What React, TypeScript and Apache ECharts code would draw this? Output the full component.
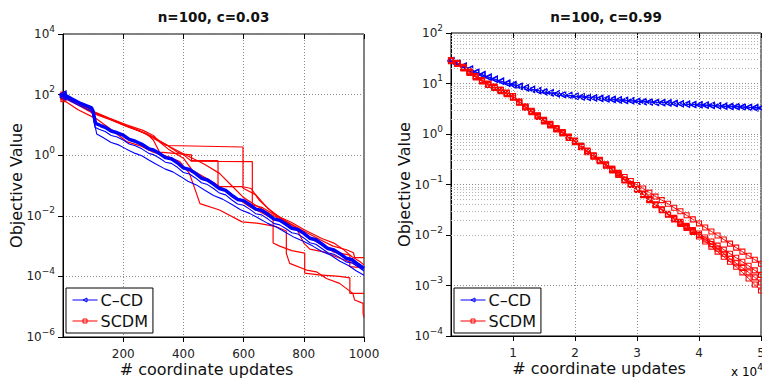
import { useEffect, useRef } from "react";
import * as echarts from "echarts";

const FONT = '"DejaVu Sans", "Liberation Sans", sans-serif';

// ---------- Left panel: n=100, c=0.03 ----------
// pairs: [coordinate updates, log10(objective value)]
const leftTitle = "n=100, c=0.03";
const leftXTicks = { min: 0, max: 1000, step: 200 };

const ccdLeftThick = [
  [0, 2.02], [30, 1.85], [60, 1.7], [95, 1.56], [100, 1.45], [108, 1.05], [125, 0.98], [140, 0.92],
  [160, 0.8], [180, 0.74], [200, 0.66], [220, 0.52], [240, 0.46], [262, 0.36], [285, 0.21], [300, 0.17],
  [320, 0.06], [340, -0.08], [360, -0.12], [380, -0.25], [400, -0.42], [420, -0.47], [440, -0.6],
  [460, -0.76], [480, -0.82], [500, -0.95], [520, -1.1], [540, -1.16], [560, -1.32], [580, -1.46],
  [600, -1.5], [620, -1.63], [640, -1.78], [660, -1.82], [680, -1.95], [700, -2.1], [720, -2.15],
  [740, -2.27], [760, -2.41], [780, -2.45], [800, -2.58], [820, -2.74], [840, -2.79], [860, -2.93],
  [880, -3.08], [900, -3.13], [920, -3.25], [940, -3.4], [960, -3.45], [980, -3.6], [1000, -3.74],
];
const ccdLeftMid = [
  [0, 1.98], [40, 1.78], [95, 1.52], [100, 1.38], [106, 0.92], [120, 0.86], [140, 0.78], [160, 0.65],
  [180, 0.6], [200, 0.5], [220, 0.37], [240, 0.31], [262, 0.21], [285, 0.06], [300, 0.02], [320, -0.09],
  [340, -0.23], [360, -0.27], [380, -0.4], [400, -0.57], [420, -0.62], [440, -0.75], [460, -0.91],
  [480, -0.97], [500, -1.1], [520, -1.25], [540, -1.31], [560, -1.47], [580, -1.61], [600, -1.65],
  [620, -1.78], [640, -1.93], [660, -1.97], [680, -2.1], [700, -2.25], [720, -2.3], [740, -2.42],
  [760, -2.56], [780, -2.6], [800, -2.73], [820, -2.89], [840, -2.94], [860, -3.08], [880, -3.22],
  [900, -3.27], [920, -3.38], [940, -3.52], [960, -3.56], [980, -3.68], [1000, -3.82],
];
const ccdLeftLow = [
  [0, 1.92], [50, 1.66], [95, 1.45], [100, 1.3], [112, 0.7], [130, 0.6], [160, 0.42], [185, 0.34],
  [211, 0.2], [240, 0.06], [262, -0.02], [285, -0.16], [310, -0.3], [340, -0.46], [365, -0.55],
  [390, -0.7], [415, -0.86], [443, -0.98], [470, -1.15], [500, -1.33], [530, -1.45], [560, -1.62],
  [590, -1.8], [620, -1.92], [650, -2.08], [680, -2.25], [710, -2.38], [740, -2.55], [770, -2.72],
  [800, -2.85], [830, -3.0], [860, -3.18], [890, -3.3], [920, -3.5], [950, -3.65], [975, -3.82],
  [1000, -3.96],
];

const scdmLeft1 = [
  [0, 2.02], [50, 1.75], [100, 1.45], [155, 1.22], [211, 1.0], [266, 0.82], [300, 0.65], [321, 0.45],
  [343, 0.32], [598, 0.27], [598, -1.04], [625, -1.1], [653, -1.5], [709, -2.0], [753, -2.25],
  [809, -2.55], [853, -2.78], [897, -3.0], [942, -3.12], [965, -3.22], [969, -3.38], [1000, -3.38],
];
const scdmLeft2 = [
  [0, 1.95], [50, 1.7], [100, 1.4], [155, 1.2], [211, 0.95], [266, 0.75], [300, 0.55], [343, 0.35],
  [380, 0.1], [400, 0.02], [427, -0.2], [629, -0.21], [629, -1.64], [660, -1.72], [700, -1.95],
  [760, -2.22], [800, -2.45], [860, -2.75], [900, -2.9], [930, -3.1], [960, -3.35], [985, -3.5],
  [1000, -3.62],
];
const scdmLeft3 = [
  [0, 1.9], [50, 1.66], [100, 1.38], [155, 1.18], [200, 1.0], [250, 0.82], [280, 0.7], [300, 0.5],
  [321, 0.1], [427, 0.01], [427, -0.18], [515, -0.18], [515, -1.04], [595, -1.04], [600, -1.1],
  [640, -1.3], [680, -1.75], [720, -2.05], [760, -2.3], [800, -2.6], [840, -2.85], [870, -3.0],
  [900, -3.2], [953, -3.3], [953, -3.68], [1000, -3.72],
];
const scdmLeft4 = [
  [0, 1.83], [50, 1.5], [111, 1.2], [160, 0.85], [211, 0.45], [260, 0.3], [300, 0.1], [350, -0.05],
  [388, -0.21], [420, -0.6], [443, -1.25], [455, -1.6], [520, -1.81], [595, -2.2], [650, -2.25],
  [709, -2.36], [742, -2.5], [742, -3.24], [753, -3.57], [809, -3.79], [842, -3.85], [875, -4.07],
  [919, -4.23], [963, -4.56], [969, -4.78], [997, -4.89], [997, -5.22], [1000, -5.35],
];
const scdmLeft5 = [
  [0, 1.95], [100, 1.42], [211, 0.98], [300, 0.6], [350, 0.2], [400, -0.1], [430, -0.5], [500, -0.9],
  [560, -1.3], [620, -1.7], [660, -1.9], [698, -2.1], [698, -2.9], [720, -3.0], [760, -3.15],
  [803, -3.23], [803, -3.89], [850, -3.95], [919, -4.0], [953, -4.05], [953, -4.56], [1000, -4.56],
];
const scdmLeft6 = [
  [0, 1.98], [100, 1.42], [211, 0.98], [300, 0.6], [350, 0.3], [400, 0.05], [470, -0.3], [520, -0.6],
  [560, -1.0], [600, -1.4], [640, -1.65], [690, -1.95], [740, -2.2], [780, -2.5], [800, -2.9],
  [820, -3.1], [870, -3.2], [920, -3.4], [960, -3.55], [1000, -3.7],
];

// ---------- Right panel: n=100, c=0.99 ----------
const rightTitle = "n=100, c=0.99";
const rightUpdates = [
  0, 1000, 2000, 3000, 4000, 5000, 6000, 7000, 8000, 9000, 10000, 11000, 12000, 13000, 14000, 15000,
  16000, 17000, 18000, 19000, 20000, 21000, 22000, 23000, 24000, 25000, 26000, 27000, 28000, 29000,
  30000, 31000, 32000, 33000, 34000, 35000, 36000, 37000, 38000, 39000, 40000, 41000, 42000, 43000,
  44000, 45000, 46000, 47000, 48000, 49000, 50000,
];
// log10(objective value) at each entry of rightUpdates
const ccdRightA = [
  1.46, 1.41, 1.35, 1.29, 1.23, 1.18, 1.13, 1.09, 1.05, 1.01, 0.98, 0.95, 0.92, 0.89, 0.86, 0.84,
  0.82, 0.8, 0.78, 0.765, 0.75, 0.74, 0.73, 0.72, 0.71, 0.7, 0.69, 0.68, 0.67, 0.66, 0.65, 0.645,
  0.64, 0.63, 0.625, 0.62, 0.61, 0.6, 0.595, 0.585, 0.58, 0.575, 0.57, 0.56, 0.555, 0.55, 0.545,
  0.54, 0.53, 0.525, 0.52,
];
const ccdRightB = [
  1.44, 1.4, 1.34, 1.28, 1.22, 1.17, 1.12, 1.08, 1.04, 1.0, 0.97, 0.94, 0.91, 0.88, 0.855, 0.83,
  0.81, 0.79, 0.775, 0.76, 0.745, 0.73, 0.72, 0.71, 0.7, 0.69, 0.68, 0.67, 0.66, 0.655, 0.645, 0.635,
  0.63, 0.62, 0.615, 0.61, 0.6, 0.595, 0.585, 0.58, 0.575, 0.565, 0.56, 0.555, 0.545, 0.54, 0.535,
  0.53, 0.525, 0.515, 0.51,
];
const scdmRightA = [
  1.46, 1.4, 1.32, 1.23, 1.14, 1.06, 0.99, 0.93, 0.87, 0.81, 0.74, 0.64, 0.54, 0.45, 0.36, 0.27,
  0.19, 0.11, 0.03, -0.06, -0.14, -0.24, -0.34, -0.43, -0.52, -0.61, -0.69, -0.77, -0.85, -0.93,
  -1.01, -1.08, -1.16, -1.24, -1.31, -1.38, -1.46, -1.53, -1.61, -1.69, -1.77, -1.85, -1.93, -2.01,
  -2.09, -2.17, -2.25, -2.33, -2.41, -2.49, -2.57,
];
const scdmRightB = [
  1.45, 1.39, 1.31, 1.22, 1.13, 1.05, 0.98, 0.92, 0.86, 0.8, 0.73, 0.63, 0.53, 0.44, 0.35, 0.26,
  0.18, 0.1, 0.02, -0.07, -0.15, -0.25, -0.35, -0.44, -0.53, -0.62, -0.71, -0.8, -0.9, -0.99, -1.09,
  -1.19, -1.29, -1.39, -1.49, -1.58, -1.66, -1.74, -1.82, -1.9, -1.97, -2.05, -2.13, -2.21, -2.29,
  -2.37, -2.45, -2.53, -2.61, -2.7, -2.79,
];
const scdmRightC = [
  1.46, 1.41, 1.33, 1.24, 1.15, 1.07, 1.0, 0.94, 0.88, 0.82, 0.75, 0.65, 0.55, 0.46, 0.37, 0.28,
  0.2, 0.12, 0.04, -0.05, -0.13, -0.23, -0.33, -0.42, -0.51, -0.6, -0.69, -0.78, -0.91, -1.0, -1.1,
  -1.2, -1.3, -1.4, -1.5, -1.59, -1.68, -1.76, -1.84, -1.92, -2.0, -2.09, -2.18, -2.27, -2.37, -2.47,
  -2.56, -2.65, -2.74, -2.84, -2.94,
];
const scdmRightD = [
  1.44, 1.39, 1.3, 1.21, 1.12, 1.04, 0.97, 0.91, 0.85, 0.79, 0.72, 0.62, 0.52, 0.43, 0.34, 0.25,
  0.17, 0.09, 0.01, -0.08, -0.16, -0.26, -0.36, -0.45, -0.54, -0.63, -0.72, -0.81, -0.92, -1.01,
  -1.11, -1.21, -1.31, -1.41, -1.51, -1.6, -1.69, -1.78, -1.86, -1.94, -2.03, -2.13, -2.23, -2.33,
  -2.43, -2.53, -2.63, -2.74, -2.86, -2.98, -3.1,
];
const minorDecades = [-4, -3, -2, -1, 0, 1];
const minorMultipliers = [2, 3, 4, 5, 6, 7, 8, 9];

const CCD = "C\u2013CD";
const SCDM = "SCDM";
const BLUE = "#0000ff";
const RED = "#ff0000";
const TXT = "#222";

const powLabel = (v: number) => {
  const e = Math.round(Math.log10(v));
  const s = e < 0 ? "\u2212" + Math.abs(e) : String(e);
  return `{b|10}{s|${s}}`;
};
const powRich = {
  b: { fontSize: 12, fontFamily: FONT, color: TXT, lineHeight: 20 },
  s: { fontSize: 9, fontFamily: FONT, color: TXT, lineHeight: 10, verticalAlign: "top" },
};

const majorGrid = { show: true, lineStyle: { color: "#8a8a8a", type: [1, 2], width: 1 } };

function mainX(gridIndex: number, min: number, max: number, interval: number, fmt: (v: number) => string) {
  return {
    type: "value", gridIndex, position: "bottom", min, max, interval,
    axisLine: { show: true, onZero: false, lineStyle: { color: "#000", width: 1 } },
    axisTick: { show: true, inside: false, length: 5, lineStyle: { color: "#000" } },
    axisLabel: { showMinLabel: false, fontSize: 12, lineHeight: 13, fontFamily: FONT, color: TXT, margin: 10, formatter: fmt },
    splitLine: majorGrid,
    name: "# coordinate updates", nameLocation: "middle", nameGap: 24, nameMoveOverlap: false,
    nameTextStyle: { fontSize: 16, lineHeight: 16, fontFamily: FONT, color: "#111", padding: [0, 14, 0, 0] },
  };
}
function topX(gridIndex: number, min: number, max: number, interval: number) {
  return {
    type: "value", gridIndex, position: "top", min, max, interval,
    axisLine: { show: false },
    axisTick: { show: true, inside: true, length: 5, lineStyle: { color: "#000" } },
    axisLabel: { show: false }, splitLine: { show: false },
  };
}
function mainY(gridIndex: number, min: number, max: number, interval: number) {
  return {
    type: "log", logBase: 10, gridIndex, position: "left", min, max, interval,
    axisLine: { show: true, onZero: false, lineStyle: { color: "#000", width: 1 } },
    axisTick: { show: true, inside: false, length: 5, lineStyle: { color: "#000" } },
    axisLabel: { fontSize: 12, fontFamily: FONT, color: TXT, margin: 8, formatter: powLabel, rich: powRich },
    splitLine: majorGrid,
    name: "Objective Value", nameLocation: "middle", nameGap: 39, nameMoveOverlap: false,
    nameTextStyle: { fontSize: 16, lineHeight: 16, fontFamily: FONT, color: "#111" },
  };
}
function rightY(gridIndex: number, min: number, max: number, interval: number) {
  return {
    type: "log", logBase: 10, gridIndex, position: "right", min, max, interval,
    axisLine: { show: false },
    axisTick: { show: true, inside: true, length: 5, lineStyle: { color: "#000" } },
    axisLabel: { show: false }, splitLine: { show: false },
  };
}

const toValues = (pairs: number[][]) => pairs.map(([x, e]) => [x, Math.pow(10, e)]);
const firstMarkerOnly = (pairs: number[][]) =>
  toValues(pairs).map((p, i) => (i === 0 ? { value: p } : { value: p, symbol: "none" }));

function leftSeries(name: string, pairs: number[][], color: string, width: number, symbol: string, rotate: number) {
  return {
    type: "line", name, xAxisIndex: 0, yAxisIndex: 0, data: firstMarkerOnly(pairs),
    symbol, symbolSize: symbol === "rect" ? 4 : 6, symbolRotate: rotate, showSymbol: true,
    lineStyle: { color, width }, itemStyle: { color: "rgba(0,0,0,0)", borderColor: color, borderWidth: 1.2 },
    emphasis: { disabled: true }, silent: true, z: color === BLUE ? 3 : 2,
  };
}
function rightSeries(name: string, exps: number[], color: string, symbol: string, rotate: number, extra?: object) {
  return {
    type: "line", name, xAxisIndex: 2, yAxisIndex: 2,
    data: rightUpdates.map((x, i) => [x, Math.pow(10, exps[i])]),
    symbol, symbolSize: symbol === "rect" ? 5 : 6, symbolRotate: rotate, showSymbol: true,
    lineStyle: { color, width: 1 }, itemStyle: { color: "rgba(0,0,0,0)", borderColor: color, borderWidth: 1.1 },
    emphasis: { disabled: true }, silent: true, ...(extra || {}),
  };
}

const minorLines = {
  silent: true, symbol: ["none", "none"], label: { show: false },
  lineStyle: { color: "#b0b0b0", type: [1, 2], width: 1 },
  emphasis: { disabled: true },
  data: minorDecades.flatMap((d) => minorMultipliers.map((m) => ({ yAxis: m * Math.pow(10, d) }))),
};

const legendBase = {
  orient: "vertical", top: 288, padding: [4, 5, 4, 6], itemGap: 5, itemWidth: 25, itemHeight: 5,
  borderColor: "#000", borderWidth: 1, backgroundColor: "#fff", selectedMode: false,
  lineStyle: { width: 1 }, itemStyle: { borderWidth: 1 },
  textStyle: { fontSize: 16, fontFamily: FONT, color: "#111", padding: [0, 0, 0, -2] },
  data: [CCD, SCDM],
};

export default function App() {
  const ref = useRef<HTMLDivElement>(null);
  useEffect(() => {
    if (!ref.current) return;
    const chart = echarts.init(ref.current, undefined, { renderer: "svg" });
    chart.setOption({
      animation: false,
      backgroundColor: "#fff",
      grid: [
        { left: 63, top: 34, width: 301, height: 303, show: true, borderColor: "#000", borderWidth: 1, containLabel: false, outerBoundsMode: "none" },
        { left: 451, top: 33, width: 310, height: 303, show: true, borderColor: "#000", borderWidth: 1, containLabel: false, outerBoundsMode: "none" },
      ],
      xAxis: [
        mainX(0, leftXTicks.min, leftXTicks.max, leftXTicks.step, (v: number) => String(v)),
        topX(0, leftXTicks.min, leftXTicks.max, leftXTicks.step),
        mainX(1, 0, 50000, 10000, (v: number) => String(v / 10000)),
        topX(1, 0, 50000, 10000),
      ],
      yAxis: [
        mainY(0, 1e-6, 1e4, 2),
        rightY(0, 1e-6, 1e4, 2),
        mainY(1, 1e-4, 1e2, 1),
        rightY(1, 1e-4, 1e2, 1),
      ],
      legend: [
        { ...legendBase, left: 66 },
        { ...legendBase, left: 454 },
      ],
      graphic: [
        { type: "text", x: 213.5, y: 17, silent: true, style: { text: leftTitle, font: `bold 13.5px ${FONT}`, fill: "#111", align: "center", verticalAlign: "middle" } },
        { type: "text", x: 606, y: 17, silent: true, style: { text: rightTitle, font: `bold 13.5px ${FONT}`, fill: "#111", align: "center", verticalAlign: "middle" } },
        { type: "text", x: 731, y: 362, silent: true, style: { text: "{b|x 10}{s|4}", rich: powRich, align: "left", verticalAlign: "top" } },
      ],
      series: [
        rightSeries(CCD, ccdRightA, BLUE, "triangle", 90, { markLine: minorLines }),
        rightSeries(CCD, ccdRightB, BLUE, "triangle", 90),
        rightSeries(SCDM, scdmRightA, RED, "rect", 0),
        rightSeries(SCDM, scdmRightB, RED, "rect", 0),
        rightSeries(SCDM, scdmRightC, RED, "rect", 0),
        rightSeries(SCDM, scdmRightD, RED, "rect", 0),
        leftSeries(SCDM, scdmLeft1, RED, 1.2, "rect", 0),
        leftSeries(SCDM, scdmLeft2, RED, 1.2, "rect", 0),
        leftSeries(SCDM, scdmLeft3, RED, 1.2, "rect", 0),
        leftSeries(SCDM, scdmLeft4, RED, 1.2, "rect", 0),
        leftSeries(SCDM, scdmLeft5, RED, 1.2, "rect", 0),
        leftSeries(SCDM, scdmLeft6, RED, 1.2, "rect", 0),
        leftSeries(CCD, ccdLeftLow, BLUE, 1.1, "triangle", 90),
        leftSeries(CCD, ccdLeftMid, BLUE, 1.1, "triangle", 90),
        leftSeries(CCD, ccdLeftThick, BLUE, 3.5, "triangle", 90),
      ],
    });
    return () => chart.dispose();
  }, []);
  return <div ref={ref} style={{ position: "absolute", left: 0, top: 0, width: 762, height: 379 }} />;
}
